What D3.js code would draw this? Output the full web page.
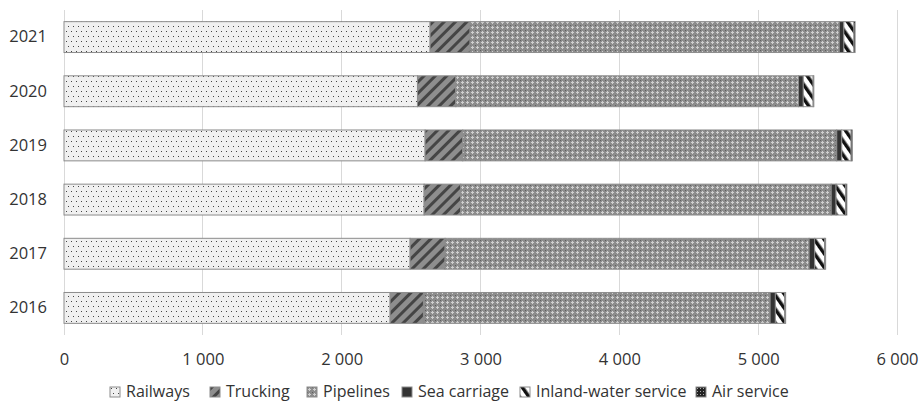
<!DOCTYPE html>
<html><head><meta charset="utf-8">
<script src="https://cdn.jsdelivr.net/npm/d3@7"></script>
<style>body{margin:0;background:#fff}svg{display:block}text{font-family:"Open Sans",sans-serif;fill:#333}</style>
</head><body><svg id="c" width="920" height="402"></svg>
<script>
const years = ["2016","2017","2018","2019","2020","2021"];
const railways    = [2349, 2493, 2594, 2601, 2546, 2637];
const trucking    = [240, 252, 264, 271, 276, 288];
const pipelines   = [2497, 2622, 2668, 2694, 2468, 2659];
const seaCarriage = [38, 40, 35, 36, 35, 33];
const inlandWater = [68, 72, 70, 68, 71, 73];
const airService  = [6, 7, 8, 8, 5, 8];
const seriesNames = ["Railways","Trucking","Pipelines","Sea carriage","Inland-water service","Air service"];
const xTicks = [0,1000,2000,3000,4000,5000,6000];

const svg = d3.select("#c");
const defs = svg.append("defs");
// patterns
let p = defs.append("pattern").attr("id","pRail").attr("patternUnits","userSpaceOnUse").attr("width",5).attr("height",10);
p.append("rect").attr("width",5).attr("height",10).attr("fill","#f0f0f0");
p.append("rect").attr("x",1).attr("y",1).attr("width",1).attr("height",1).attr("fill","#444");
p.append("rect").attr("x",3).attr("y",6).attr("width",1).attr("height",1).attr("fill","#444");

p = defs.append("pattern").attr("id","pTruck").attr("patternUnits","userSpaceOnUse").attr("width",8).attr("height",8).attr("patternTransform","rotate(45)");
p.append("rect").attr("width",8).attr("height",8).attr("fill","#8e8e8e");
p.append("rect").attr("x",0).attr("width",3).attr("height",8).attr("fill","#454545");

p = defs.append("pattern").attr("id","pPipe").attr("patternUnits","userSpaceOnUse").attr("width",5).attr("height",5);
p.append("rect").attr("width",5).attr("height",5).attr("fill","#8c8c8c");
p.append("rect").attr("x",2).attr("y",1).attr("width",1).attr("height",3).attr("fill","#cfcfcf");
p.append("rect").attr("x",1).attr("y",2).attr("width",3).attr("height",1).attr("fill","#cfcfcf");
p.append("rect").attr("x",0).attr("y",0).attr("width",1).attr("height",1).attr("fill","#5e5e5e");

p = defs.append("pattern").attr("id","pInland").attr("patternUnits","userSpaceOnUse").attr("width",8).attr("height",8).attr("patternTransform","rotate(-35)");
p.append("rect").attr("width",8).attr("height",8).attr("fill","#fff");
p.append("rect").attr("x",0).attr("width",3.5).attr("height",8).attr("fill","#111");

p = defs.append("pattern").attr("id","pAir").attr("patternUnits","userSpaceOnUse").attr("width",3).attr("height",3);
p.append("rect").attr("width",3).attr("height",3).attr("fill","#222");
p.append("rect").attr("x",1).attr("y",1).attr("width",1).attr("height",1).attr("fill","#aaa");

const fills = ["url(#pRail)","url(#pTruck)","url(#pPipe)","#333","url(#pInland)","url(#pAir)"];

const x = d3.scaleLinear().domain([0,6000]).range([64,897]);
const y = d3.scaleBand().domain(years.slice().reverse()).range([10,335]).paddingInner(0.43).paddingOuter(0.215);

// grid
svg.append("g").selectAll("line").data(xTicks).join("line")
  .attr("x1",d=>x(d)).attr("x2",d=>x(d)).attr("y1",10).attr("y2",335)
  .attr("stroke","#d9d9d9").attr("stroke-width",1).attr("shape-rendering","crispEdges");

const table = years.map((yr,i)=>({year:yr, s0:railways[i], s1:trucking[i], s2:pipelines[i], s3:seaCarriage[i], s4:inlandWater[i], s5:airService[i]}));
const stack = d3.stack().keys(["s0","s1","s2","s3","s4","s5"])(table);

svg.append("g").selectAll("g").data(stack).join("g")
  .attr("fill",(d,i)=>fills[i])
  .selectAll("rect").data(d=>d).join("rect")
  .attr("x",d=>x(d[0])).attr("width",d=>x(d[1])-x(d[0]))
  .attr("y",d=>y(d.data.year)).attr("height",y.bandwidth())
  .attr("stroke","#8c8c8c").attr("stroke-width",1);

// x axis labels
const xAxis = d3.axisBottom(x).tickValues(xTicks).tickSize(0).tickPadding(0)
  .tickFormat(d=>d3.format(",")(d).replace(/,/g," "));
const gx = svg.append("g").attr("transform","translate(0,350)").call(xAxis);
gx.select(".domain").remove();
gx.selectAll("text").attr("dy","0.71em").attr("font-size",16.5).style("font-family","'Open Sans',sans-serif").attr("fill","#333").attr("y",3);

// y axis labels
const yAxis = d3.axisLeft(y).tickSize(0).tickPadding(0);
const gy = svg.append("g").attr("transform","translate(47,0)").call(yAxis);
gy.select(".domain").remove();
gy.selectAll("text").attr("font-size",16.5).style("font-family","'Open Sans',sans-serif").attr("fill","#333");

// legend
const legX = [110,210,307,402,520,696];
const leg = svg.append("g").selectAll("g").data(seriesNames).join("g")
  .attr("transform",(d,i)=>`translate(${legX[i]},387)`);
leg.append("rect").attr("width",10).attr("height",10).attr("fill",(d,i)=>fills[i]).attr("stroke","#8c8c8c").attr("stroke-width",1);
leg.append("text").attr("x",16).attr("y",10).attr("font-size",16).text(d=>d);
</script></body></html>
